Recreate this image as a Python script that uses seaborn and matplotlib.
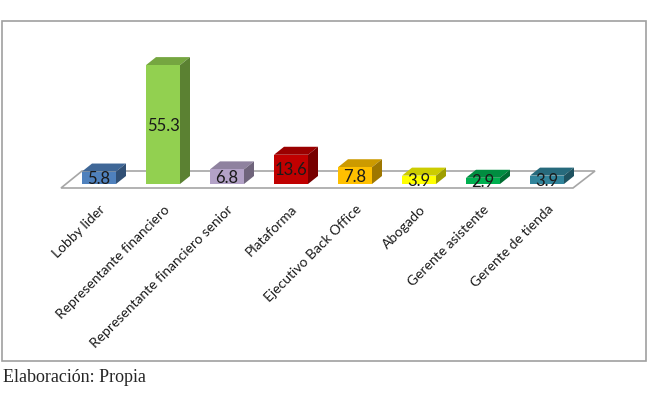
import numpy as np
import pandas as pd
import seaborn as sns
import matplotlib.pyplot as plt
from matplotlib.patches import Polygon, Rectangle
from matplotlib.colors import to_rgb

categorias = ['Lobby lider', 'Representante financiero', 'Representante financiero senior',
              'Plataforma', 'Ejecutivo Back Office', 'Abogado', 'Gerente asistente',
              'Gerente de tienda']
valores = [5.8, 55.3, 6.8, 13.6, 7.8, 3.9, 2.9, 3.9]
colores = ['#4F81BD', '#92D050', '#B3A2C7', '#C00000', '#FFC000', '#FFFF00', '#00B050', '#31849B']

sns.set_style("white")
plt.rcParams['font.family'] = ['Lato', 'DejaVu Sans']

W, H = 648, 402
fig = plt.figure(figsize=(W / 100, H / 100), dpi=100)

# axes placed in pixel units (left, right, top, bottom)
L, R, T, B = 40, 620, 30, 192
ax = fig.add_axes([L / W, 1 - B / H, (R - L) / W, (B - T) / H])

x0, sx = 99, 64.0      # pixel of first bar centre, pixels per bar
y0, sy = 185, 2.15     # pixel of value 0, pixels per unit
xmin, xmax = (L - x0) / sx, (R - x0) / sx
ymin, ymax = -(B - y0) / sy, (y0 - T) / sy

df = pd.DataFrame({'cat': categorias, 'val': valores})
sns.barplot(data=df, x='cat', y='val', hue='cat', palette=colores, legend=False,
            width=34 / sx, ax=ax, saturation=1, zorder=3)
ax.set_xlim(xmin, xmax)
ax.set_ylim(ymin, ymax)

# floor of the 3D box
dxp, dyp = 10 / sx, 8 / sy
floor = Polygon([[(61 - x0) / sx, -(189 - y0) / sy], [(573 - x0) / sx, -(189 - y0) / sy],
                 [(595 - x0) / sx, (y0 - 172) / sy], [(82 - x0) / sx, (y0 - 172) / sy]],
                closed=True, facecolor='white', edgecolor='#A6A6A6', lw=1.2, zorder=1)
ax.add_patch(floor)

for p, c, v in zip(ax.patches, colores, valores):
    xl, w, h = p.get_x(), p.get_width(), p.get_height()
    rgb = np.array(to_rgb(c))
    p.set_edgecolor('none')
    top = Polygon([[xl, h], [xl + w, h], [xl + w + dxp, h + dyp], [xl + dxp, h + dyp]],
                  facecolor=rgb * 0.8, edgecolor='none', zorder=2)
    side = Polygon([[xl + w, 0], [xl + w + dxp, dyp], [xl + w + dxp, h + dyp], [xl + w, h]],
                   facecolor=rgb * 0.62, edgecolor='none', zorder=2)
    ax.add_patch(top)
    ax.add_patch(side)
    ax.text(xl + w / 2, h / 2, f'{v:.1f}', ha='center', va='center', fontsize=12,
            color='#1a1a1a', zorder=5)

ax.set_xticks(np.arange(len(categorias)))
ax.set_xticklabels(categorias, rotation=45, ha='right', rotation_mode='anchor', fontsize=10,
                   color='#1a1a1a')
ax.tick_params(axis='x', length=0, pad=8)
ax.set_yticks([])
ax.set_xlabel('')
ax.set_ylabel('')
for s in ax.spines.values():
    s.set_visible(False)
ax.patch.set_alpha(0)

# outer frame and source note
fig.add_artist(Rectangle((2 / W, 1 - 362 / H), 644 / W, 340 / H, transform=fig.transFigure,
                         fill=False, edgecolor='#A0A0A0', lw=1.2))
fig.text(3 / W, 1 - 382 / H, 'Elaboración: Propia', family='Liberation Serif', fontsize=13,
         ha='left', va='baseline')

fig.savefig('out.png', dpi=100)
